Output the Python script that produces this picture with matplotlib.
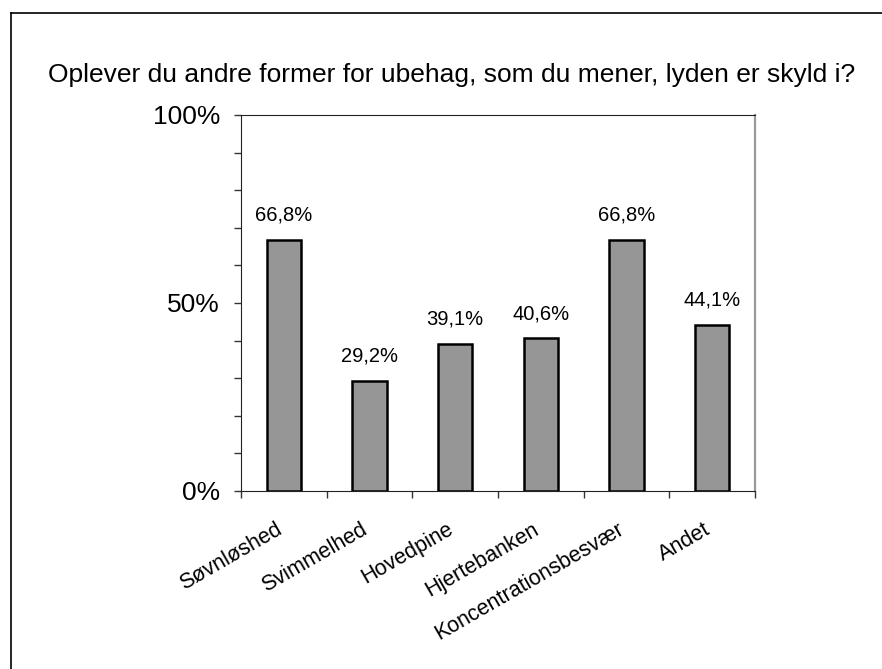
import numpy as np
import matplotlib
matplotlib.use("Agg")
import matplotlib.pyplot as plt
from matplotlib.lines import Line2D
from matplotlib.ticker import FixedLocator
from matplotlib.transforms import ScaledTranslation

plt.rcParams['font.family'] = ['Liberation Sans', 'DejaVu Sans']

title = "Oplever du andre former for ubehag, som du mener, lyden er skyld i?"
categories = ["Søvnløshed", "Svimmelhed", "Hovedpine", "Hjertebanken",
              "Koncentrationsbesvær", "Andet"]
values = [66.8, 29.2, 39.1, 40.6, 66.8, 44.1]

fig = plt.figure(figsize=(8.82, 6.69), dpi=100)
ax = fig.add_axes([241 / 882, 1 - 491 / 669, (755 - 241) / 882, (491 - 115) / 669])

x = np.arange(len(categories))
bars = ax.bar(x, values, width=0.4, color="#969696", edgecolor="black", linewidth=1.8, zorder=3)

for xi, v in zip(x, values):
    ax.annotate(f"{v:.1f}%".replace(".", ","), (xi, v), xytext=(0, 11),
                textcoords="offset points", ha="center", va="bottom", fontsize=14.5)

ax.set_xlim(-0.5, len(categories) - 0.5)
ax.set_ylim(0, 100)

ax.set_yticks([0, 50, 100])
ax.set_yticklabels(["0%", "50%", "100%"], fontsize=19)
ax.yaxis.set_minor_locator(FixedLocator(np.arange(0, 101, 10)))
ax.tick_params(axis="y", which="both", direction="out", length=5, width=1, color="#333333", pad=10)

ax.set_xticks(x)
ax.set_xticklabels(categories, rotation=30, ha="right", rotation_mode="anchor", fontsize=15.5)
ax.tick_params(axis="x", which="major", length=0, pad=20)
shift = ScaledTranslation(-9 / 100, 0, fig.dpi_scale_trans)
for lbl in ax.get_xticklabels():
    lbl.set_transform(lbl.get_transform() + shift)
ax.xaxis.set_minor_locator(FixedLocator(np.arange(-0.5, len(categories), 1.0)))
ax.tick_params(axis="x", which="minor", direction="out", length=5, width=1, color="#333333")

ax.spines["left"].set_color("#222222")
ax.spines["bottom"].set_color("#222222")
ax.spines["top"].set_color("#222222")
ax.spines["right"].set_color("#999999")
ax.spines["right"].set_linewidth(1.6)

fig.text(452 / 882, 1 - 75 / 669, title, ha="center", va="center", fontsize=19)

# frame around the chart (cut off at right and bottom)
fig.add_artist(Line2D([11 / 882, 1], [1 - 13 / 669] * 2, color="black", linewidth=1.2))
fig.add_artist(Line2D([11 / 882] * 2, [0, 1 - 13 / 669], color="black", linewidth=1.2))

fig.savefig("out.png", dpi=100)
